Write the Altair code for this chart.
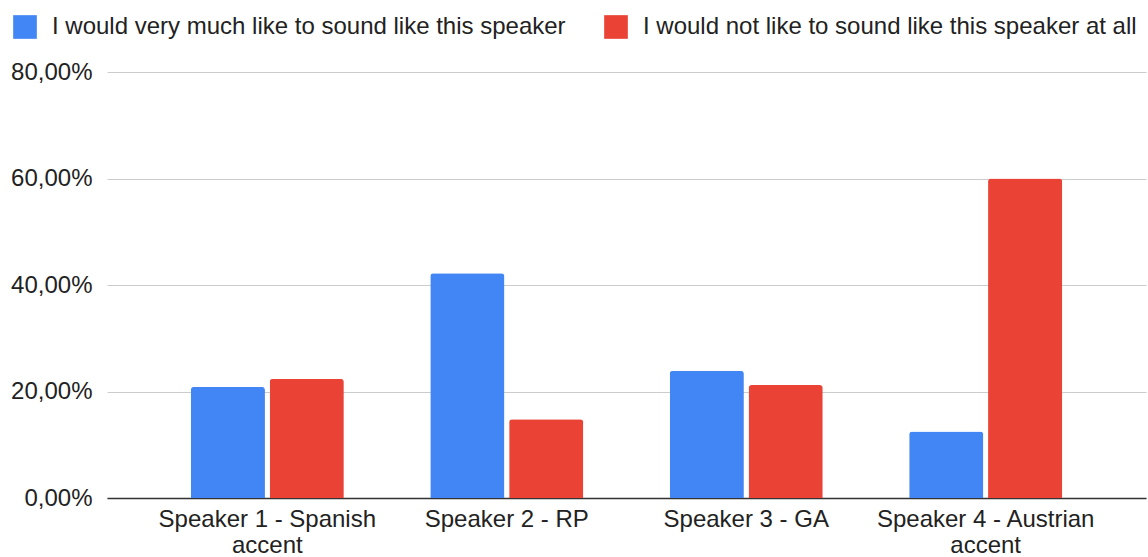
import altair as alt
import pandas as pd

categories = ["Speaker 1 - Spanish|accent", "Speaker 2 - RP", "Speaker 3 - GA", "Speaker 4 - Austrian|accent"]
series = ["I would very much like to sound like this speaker", "I would not like to sound like this speaker at all"]
like_values = [0.2085, 0.422, 0.239, 0.125]
dislike_values = [0.2237, 0.148, 0.212, 0.600]
colors = ["#4285F4", "#EA4335"]
y_ticks = [0, 0.2, 0.4, 0.6, 0.8]

rows = []
for c, a, b in zip(categories, like_values, dislike_values):
    rows.append({"cat": c, "series": series[0], "value": a})
    rows.append({"cat": c, "series": series[1], "value": b})
df = pd.DataFrame(rows)

FONT = "Liberation Sans"

chart = alt.Chart(df).mark_bar(cornerRadiusTopLeft=3, cornerRadiusTopRight=3).encode(
    x=alt.X("cat:N", sort=categories, title=None,
            scale=alt.Scale(paddingInner=0.361, paddingOuter=0.35, align=0.5),
            axis=alt.Axis(labelAngle=0, ticks=False, domainColor="#333333", domainWidth=1.5,
                          labelExpr="split(datum.label, '|')", labelFontSize=24,
                          labelColor="#222222", labelPadding=9, labelLineHeight=26,
                          labelFont=FONT, labelLimit=400, grid=False)),
    xOffset=alt.XOffset("series:N", sort=series, scale=alt.Scale(paddingInner=0.06, paddingOuter=0)),
    y=alt.Y("value:Q", title=None, scale=alt.Scale(domain=[0, 0.8], nice=False),
            axis=alt.Axis(values=y_ticks, domain=False, ticks=False, gridColor="#cccccc",
                          gridWidth=1, labelFontSize=24, labelColor="#222222", labelFont=FONT,
                          labelPadding=15,
                          labelExpr="replace(format(datum.value, '.2%'), '.', ',')")),
    color=alt.Color("series:N", sort=series,
                    scale=alt.Scale(domain=series, range=colors),
                    legend=alt.Legend(title=None, orient="none", legendX=-94, legendY=-57,
                                      direction="horizontal", symbolType="square",
                                      symbolSize=560, symbolStrokeWidth=0, labelFontSize=24,
                                      labelFont=FONT, labelColor="#222222", labelOffset=15,
                                      columnPadding=38, labelLimit=800)),
).properties(
    width=1039, height=426,
    padding={"left": 107, "top": 72, "right": 2, "bottom": 59},
    autosize=alt.AutoSizeParams(type="none"),
).configure_view(stroke=None)

chart.save("out.html", embed_options={"renderer": "svg", "actions": False})
